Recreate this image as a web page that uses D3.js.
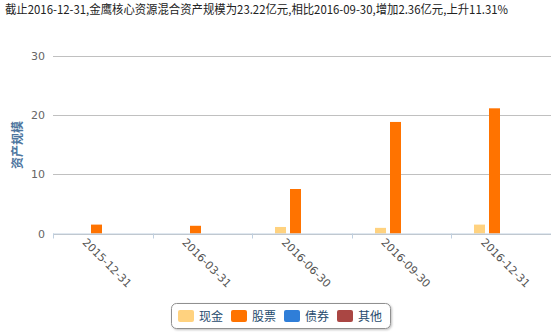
<!DOCTYPE html>
<html>
<head>
<meta charset="utf-8">
<script src="https://cdn.jsdelivr.net/npm/d3@7"></script>
<style>
  body { margin: 0; background: #fff; }
  svg { display: block; font-family: "Noto Sans CJK SC", "DejaVu Sans", sans-serif; }
</style>
</head>
<body>
<div id="chart"></div>
<script>
// ---------------------------------------------------------------------------
// Data

const titleText = '截止2016-12-31,金鹰核心资源混合资产规模为23.22亿元,相比2016-09-30,增加2.36亿元,上升11.31%';
const categories = ['2015-12-31', '2016-03-31', '2016-06-30', '2016-09-30', '2016-12-31'];
const seriesNames = ['现金', '股票', '债券', '其他'];
const cashValues = [0, 0, 1.1, 0.95, 1.5];
const stockValues = [1.5, 1.3, 7.5, 18.8, 21.1];
const bondValues = [0, 0, 0, 0, 0];
const otherValues = [0, 0, 0, 0, 0];
const yTicks = [0, 10, 20, 30];
const colors = ['#FFD27F', '#FF7300', '#2F7ED8', '#AA4643'];

// ---------------------------------------------------------------------------
// Chart

const width = 551;
const height = 334;
const plot = { left: 53, right: 551, top: 55.5, bottom: 233.5 };

const svg = d3.select('#chart').append('svg')
  .attr('width', width)
  .attr('height', height);

// title
svg.append('text')
  .attr('x', 5)
  .attr('y', 14)
  .attr('font-size', 12)
  .attr('fill', '#222')
  .attr('textLength', 503)
  .attr('lengthAdjust', 'spacingAndGlyphs')
  .text(titleText);

const x0 = d3.scaleBand()
  .domain(categories)
  .range([plot.left, plot.right]);

const bw = x0.bandwidth();
const x1 = d3.scaleBand()
  .domain(seriesNames)
  .range([bw * 0.23, bw * 0.79])
  .paddingInner(0.27);

const y = d3.scaleLinear()
  .domain([0, 30])
  .range([plot.bottom, plot.top]);

// gridlines
svg.append('g')
  .selectAll('line')
  .data(yTicks)
  .enter()
  .append('line')
  .attr('x1', plot.left)
  .attr('x2', plot.right)
  .attr('y1', d => Math.round(y(d)) + 0.5)
  .attr('y2', d => Math.round(y(d)) + 0.5)
  .attr('stroke', '#C0C0C0');

// y labels
svg.append('g')
  .selectAll('text')
  .data(yTicks)
  .enter()
  .append('text')
  .attr('x', 45)
  .attr('y', d => y(d) + 4)
  .attr('text-anchor', 'end')
  .attr('font-size', 11)
  .attr('font-family', 'DejaVu Sans, sans-serif')
  .attr('fill', '#666')
  .text(d => d);

// y axis title
svg.append('text')
  .attr('transform', 'translate(22,145) rotate(-90)')
  .attr('text-anchor', 'middle')
  .attr('font-size', 12)
  .attr('font-weight', 'bold')
  .attr('fill', '#4D759E')
  .text('资产规模');

// bars
const series = [cashValues, stockValues, bondValues, otherValues];
series.forEach(function(values, si) {
  svg.append('g')
    .selectAll('rect')
    .data(values)
    .enter()
    .append('rect')
    .attr('x', (d, i) => Math.round(x0(categories[i]) + x1(seriesNames[si])))
    .attr('y', d => y(d))
    .attr('width', Math.round(x1.bandwidth()))
    .attr('height', d => y(0) - y(d))
    .attr('fill', colors[si]);
});

// x axis line + ticks
const xAxis = svg.append('g');
xAxis.append('line')
  .attr('x1', plot.left)
  .attr('x2', plot.right)
  .attr('y1', plot.bottom + 0.5)
  .attr('y2', plot.bottom + 0.5)
  .attr('stroke', '#C0D0E0');
xAxis.selectAll('line.tick')
  .data(categories)
  .enter()
  .append('line')
  .attr('class', 'tick')
  .attr('x1', d => Math.round(x0(d)) + 0.5)
  .attr('x2', d => Math.round(x0(d)) + 0.5)
  .attr('y1', plot.bottom)
  .attr('y2', plot.bottom + 5)
  .attr('stroke', '#C0D0E0');

// x labels, rotated
xAxis.selectAll('text')
  .data(categories)
  .enter()
  .append('text')
  .attr('transform', d => `translate(${x0(d) + bw / 2 - 21},243) rotate(45)`)
  .attr('font-size', 11)
  .attr('font-family', 'DejaVu Sans, sans-serif')
  .attr('fill', '#555')
  .text(d => d);

// legend
const defs = svg.append('defs');
const filter = defs.append('filter').attr('id', 'shadow')
  .attr('x', '-10%').attr('y', '-30%').attr('width', '120%').attr('height', '160%');
filter.append('feDropShadow')
  .attr('dx', 1).attr('dy', 1).attr('stdDeviation', 1.2)
  .attr('flood-color', '#000').attr('flood-opacity', 0.25);

const legend = svg.append('g').attr('transform', 'translate(171.5,303.5)');
legend.append('rect')
  .attr('width', 219)
  .attr('height', 25)
  .attr('rx', 5)
  .attr('fill', '#fff')
  .attr('stroke', '#909090')
  .attr('filter', 'url(#shadow)');

const items = legend.selectAll('g.item')
  .data(seriesNames)
  .enter()
  .append('g')
  .attr('class', 'item')
  .attr('transform', (d, i) => `translate(${6.5 + i * 53},6.5)`);
items.append('rect')
  .attr('width', 16)
  .attr('height', 12)
  .attr('rx', 2)
  .attr('fill', (d, i) => colors[i]);
items.append('text')
  .attr('x', 21)
  .attr('y', 11)
  .attr('font-size', 12)
  .attr('fill', '#274B6D')
  .text(d => d);
</script>
</body>
</html>
